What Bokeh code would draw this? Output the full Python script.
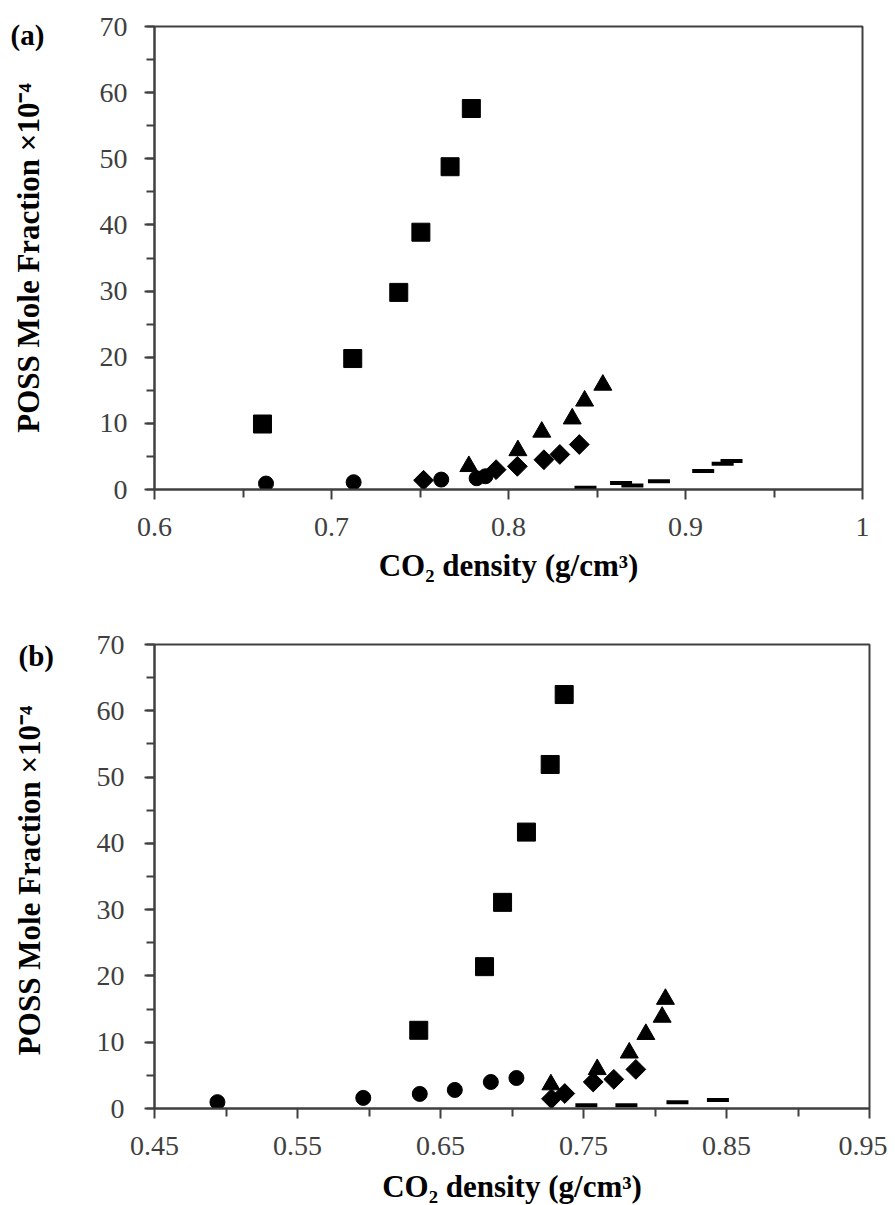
from bokeh.plotting import figure
from bokeh.layouts import column
from bokeh.models import SingleIntervalTicker, FixedTicker, CustomJSTickFormatter, Range1d
from bokeh.core.properties import value
from bokeh.embed import file_html
from bokeh.resources import INLINE
import math

# ---------------- data: panel (a) ----------------
a_sq_x = [0.661, 0.712, 0.738, 0.7505, 0.767, 0.779]
a_sq_y = [9.9, 19.8, 29.8, 38.9, 48.8, 57.6]
a_ci_x = [0.663, 0.7125, 0.762, 0.782, 0.787]
a_ci_y = [0.9, 1.1, 1.5, 1.7, 2.0]
a_di_x = [0.752, 0.793, 0.805, 0.820, 0.829, 0.840]
a_di_y = [1.4, 3.0, 3.5, 4.5, 5.3, 6.8]
a_tr_x = [0.7776, 0.8053, 0.8188, 0.836, 0.843, 0.8533]
a_tr_y = [3.5, 5.9, 8.7, 10.7, 13.4, 15.8]
a_da_x = [0.8435, 0.8636, 0.870, 0.885, 0.910, 0.921, 0.926]
a_da_y = [0.26, 1.0, 0.6, 1.25, 2.8, 3.9, 4.3]
a_xrange = (0.6, 1.0)
a_xticks = [0.6, 0.7, 0.8, 0.9, 1.0]
a_xminor = [0.65, 0.75, 0.85, 0.95]

# ---------------- data: panel (b) ----------------
b_sq_x = [0.6348, 0.6808, 0.6934, 0.7101, 0.7267, 0.7365]
b_sq_y = [11.8, 21.4, 31.1, 41.7, 51.9, 62.45]
b_ci_x = [0.494, 0.596, 0.6355, 0.660, 0.6852, 0.7031]
b_ci_y = [0.96, 1.6, 2.2, 2.8, 4.0, 4.6]
b_di_x = [0.7276, 0.7369, 0.7568, 0.7712, 0.7866]
b_di_y = [1.46, 2.26, 4.0, 4.4, 5.9]
b_tr_x = [0.7272, 0.7596, 0.782, 0.7936, 0.805, 0.8073]
b_tr_y = [3.6, 5.9, 8.4, 11.2, 13.8, 16.5]
b_da_x = [0.752, 0.780, 0.8157, 0.844]
b_da_y = [0.5, 0.5, 0.95, 1.3]
b_xrange = (0.45, 0.95)
b_xticks = [0.45, 0.55, 0.65, 0.75, 0.85, 0.95]
b_xminor = [0.5, 0.6, 0.7, 0.8, 0.9]

y_range = (0, 70)
y_ticks_interval = 10
x_title = "CO\u2082 density (g/cm\u00b3)"
y_title_a = "POSS Mole Fraction \u00d710\u207b\u2074"
y_title_b = "POSS Mole Fraction  \u00d710\u207b\u2074"

SERIF = "Liberation Serif"
AX = "#404040"


def make_panel(xr, xticks, xminor, series, ytitle, tag, fw, fh, bl, bt, bb, br,
               ylab_standoff, ylab_major_standoff, xlab_standoff, tag_dx, tag_dy):
    p = figure(output_backend="svg", toolbar_location=None,
               frame_width=fw, frame_height=fh,
               x_range=Range1d(*xr), y_range=Range1d(*y_range),
               min_border_left=bl, min_border_top=bt, min_border_bottom=bb,
               min_border_right=br, background_fill_color="white",
               border_fill_color="white")
    p.xgrid.visible = False
    p.ygrid.visible = False
    p.outline_line_color = AX
    p.outline_line_width = 2
    p.outline_line_alpha = 1

    p.xaxis.ticker = FixedTicker(ticks=xticks, minor_ticks=xminor)
    p.xaxis.formatter = CustomJSTickFormatter(code="return String(Math.round(tick*100)/100)")
    p.yaxis.ticker = SingleIntervalTicker(interval=y_ticks_interval, num_minor_ticks=2)
    for ax in (p.xaxis, p.yaxis):
        ax.axis_line_color = AX
        ax.axis_line_width = 2
        ax.major_tick_line_color = AX
        ax.minor_tick_line_color = AX
        ax.major_tick_line_width = 2
        ax.minor_tick_line_width = 2
        ax.major_tick_in = 0
        ax.minor_tick_in = 0
        ax.major_tick_out = 10
        ax.minor_tick_out = 8
        ax.major_label_text_font = SERIF
        ax.major_label_text_font_size = "28px"
        ax.major_label_text_color = AX
        ax.axis_label_text_font = SERIF
        ax.axis_label_text_font_style = "bold"
        ax.axis_label_text_font_size = "31px"
        ax.axis_label_text_color = "black"
    p.xaxis.axis_label = x_title
    p.yaxis.axis_label = ytitle
    p.yaxis.major_label_standoff = ylab_major_standoff
    p.yaxis.axis_label_standoff = ylab_standoff
    p.xaxis.major_label_standoff = 18
    p.xaxis.axis_label_standoff = xlab_standoff

    (sqx, sqy), (cix, ciy), (dix, diy), (trx, try_), (dax, day) = series
    p.scatter(sqx, sqy, marker="square", size=18, color="black")
    p.scatter(cix, ciy, marker="circle", size=15, color="black")
    p.scatter(dix, diy, marker="square", size=14, angle=math.pi / 4, color="black")
    p.scatter(trx, try_, marker="triangle", size=18, color="black")
    p.scatter(dax, day, marker="dash", size=22, line_width=4, line_color="black")

    # panel tag "(a)" / "(b)", anchored at the frame's top-left corner, offset in pixels
    p.text(x=[xr[0]], y=[y_range[1]], text=[tag], x_offset=tag_dx, y_offset=tag_dy,
           text_font=value(SERIF), text_font_style="bold", text_font_size="29px",
           text_color="black", text_baseline="top", text_align="left",
           level="overlay")
    return p


pa = make_panel(a_xrange, a_xticks, a_xminor,
                [(a_sq_x, a_sq_y), (a_ci_x, a_ci_y), (a_di_x, a_di_y),
                 (a_tr_x, a_tr_y), (a_da_x, a_da_y)],
                y_title_a, "(a)", 708, 463, 154, 26, 100, 25,
                51, 17, 9, -144, -8)
pb = make_panel(b_xrange, b_xticks, b_xminor,
                [(b_sq_x, b_sq_y), (b_ci_x, b_ci_y), (b_di_x, b_di_y),
                 (b_tr_x, b_tr_y), (b_da_x, b_da_y)],
                y_title_b, "(b)", 715, 464, 147, 55, 92, 25,
                47, 20, 11, -136, -5)

layout = column(pa, pb, spacing=0)
open("out.html", "w").write(file_html(layout, INLINE))
